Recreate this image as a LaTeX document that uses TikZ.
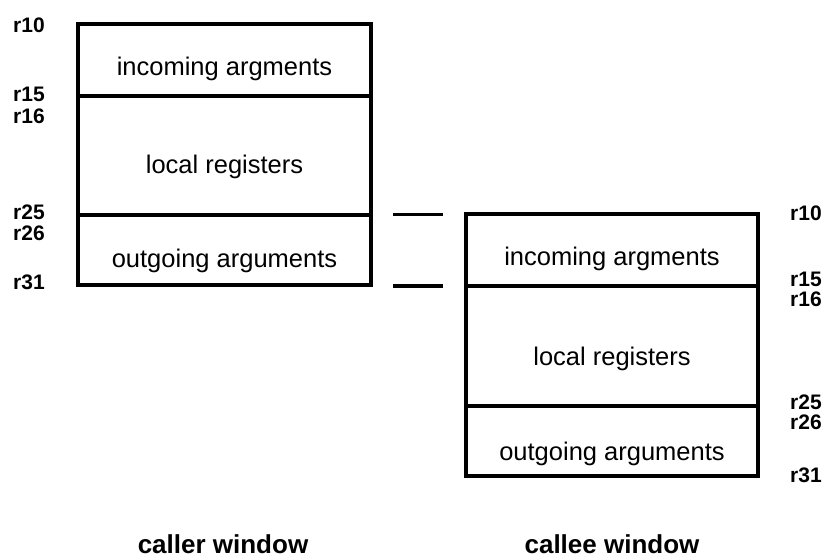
\documentclass[tikz,border=0pt]{standalone}
\usepackage{fontspec}
\setmainfont{Liberation Sans}
\begin{document}
\begin{tikzpicture}[x=1pt,y=-1pt]
\tikzset{
 cell/.style={draw, line width=3.1pt, inner sep=0pt, outer sep=0pt, anchor=north west},
 celltext/.style={anchor=base, inner sep=0pt, font=\fontsize{25.5}{25.5}\selectfont},
 reg/.style={anchor=base west, inner sep=0pt, font=\bfseries\fontsize{21}{21}\selectfont},
 title/.style={anchor=base, inner sep=0pt, font=\bfseries\fontsize{26}{26}\selectfont},
 dashline/.style={line width=3.1pt},
}
\useasboundingbox (0,0) rectangle (831,558);
% caller window
\node[cell, minimum width=293pt, minimum height=72pt] (Lin) at (78,24) {};
\node[cell, minimum width=293pt, minimum height=119pt] (Lloc) at (78,96) {};
\node[cell, minimum width=293pt, minimum height=70pt] (Lout) at (78,215) {};
\node[celltext] (tLin) at (224.5,75) {incoming argments};
\node[celltext] (tLloc) at (224.5,173) {local registers};
\node[celltext] (tLout) at (224.5,267) {outgoing arguments};
% callee window
\node[cell, minimum width=292pt, minimum height=72pt] (Rin) at (466,214) {};
\node[cell, minimum width=292pt, minimum height=120pt] (Rloc) at (466,286) {};
\node[cell, minimum width=292pt, minimum height=70pt] (Rout) at (466,406) {};
\node[celltext] (tRin) at (612,265) {incoming argments};
\node[celltext] (tRloc) at (612,365) {local registers};
\node[celltext] (tRout) at (612,460) {outgoing arguments};
% dashes
\coordinate (d1a) at (393,214.5);
\coordinate (d1b) at (443,214.5);
\coordinate (d2a) at (393,286);
\coordinate (d2b) at (443,286);
\draw[dashline] (d1a) -- (d1b);
\draw[dashline] (d2a) -- (d2b);
% left register labels
\node[reg] (l10) at (13,32) {r10};
\node[reg] (l15) at (13,101) {r15};
\node[reg] (l16) at (13,123) {r16};
\node[reg] (l25) at (13,219) {r25};
\node[reg] (l26) at (13,240) {r26};
\node[reg] (l31) at (13,289) {r31};
% right register labels
\node[reg] (r10) at (790,220) {r10};
\node[reg] (r15) at (790,286) {r15};
\node[reg] (r16) at (790,306) {r16};
\node[reg] (r25) at (790,409) {r25};
\node[reg] (r26) at (790,429) {r26};
\node[reg] (r31) at (790,482) {r31};
% titles
\node[title] (caller) at (223,553) {caller window};
\node[title] (callee) at (612,553) {callee window};
\end{tikzpicture}
\end{document}
